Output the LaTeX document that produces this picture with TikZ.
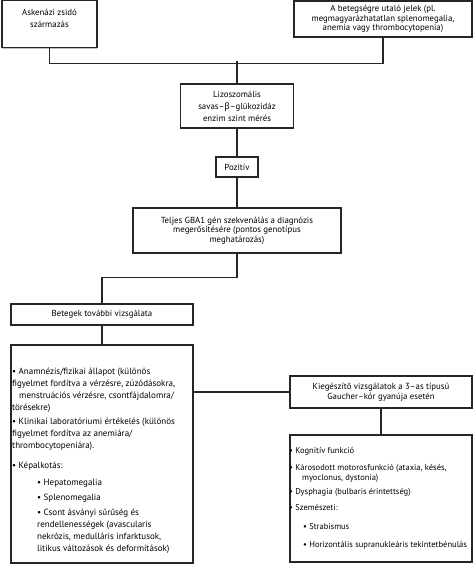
\documentclass[tikz,border=0pt]{standalone}
\usepackage{fontspec}
\setmainfont{PT Sans}
\newfontfamily\grfont{Noto Sans}
\usetikzlibrary{shadows}

\begin{document}
\begin{tikzpicture}[x=1pt, y=-1pt,
  box/.style={draw=black!85, line width=1.1pt, fill=white, inner sep=2pt,
              drop shadow={shadow xshift=0.4pt, shadow yshift=-1.2pt, opacity=0.5},
              align=center, font=\fontsize{8.8}{9.6}\selectfont},
  txt/.style={inner sep=0pt, align=left, anchor=north west},
  line/.style={draw=black!85, line width=1.1pt}]
\useasboundingbox (0,0) rectangle (474,573);

%% felső sor
\node[box, minimum width=95pt, minimum height=47pt,
      font=\fontsize{8.8}{12}\selectfont] (ask) at (49.5,24)
      {Askenázi zsidó\\származás\\\mbox{}};
\node[box, minimum width=178pt, minimum height=36pt] (jel) at (383,19)
      {A betegségre utaló jelek (pl.\\megmagyarázhatatlan splenomegalia,\\anemia vagy thrombocytopenia)};

%% középső oszlop
\node[box, minimum width=113pt, minimum height=44pt,
      font=\fontsize{8.8}{12}\selectfont] (lizo) at (237,106)
      {Lizoszomális\\savas–{\grfont β}–glükozidáz\\enzim szint mérés};
\node[box, minimum width=42pt, minimum height=20pt] (poz) at (237,167)
      {Pozitív};
\node[box, minimum width=208pt, minimum height=45pt] (gba) at (237,230.5)
      {Teljes GBA1 gén szekvenálás a diagnózis\\megerősítésére (pontos genotípus\\meghatározás)};

%% bal oldal
\node[box, minimum width=182pt, minimum height=21pt] (bet) at (102,314.5)
      {Betegek további vizsgálata};
\node[box, minimum width=182pt, minimum height=218pt] (vizsg) at (102,454) {};
\node[txt, font=\fontsize{9}{12}\selectfont] (anam) at (12,368) {%
• Anamnézis/fizikai állapot (különös\\
figyelmet fordítva a vérzésre, zúzódásokra,\\
\hspace*{7pt}menstruációs vérzésre, csontfájdalomra/\\
törésekre)\\[2pt]
• Klinikai laboratóriumi értékelés (különös\\
figyelmet fordítva az anemiára/\\
thrombocytopeniára).\\[8pt]
• Képalkotás:\\[5pt]
\hspace*{25pt}• Hepatomegalia\\[3pt]
\hspace*{25pt}• Splenomegalia\\[3pt]
\hspace*{25pt}• Csont ásványi sűrűség és\\
\hspace*{25pt}rendellenességek (avascularis\\
\hspace*{25pt}nekrózis, medulláris infarktusok,\\
\hspace*{25pt}litikus változások és deformitások)};

%% jobb oldal
\node[box, minimum width=182pt, minimum height=32pt] (kieg) at (381,392)
      {Kiegészítő vizsgálatok a 3–as típusú\\Gaucher–kór gyanúja esetén};
\node[box, minimum width=182pt, minimum height=127pt] (tov) at (381,498.5) {};
\node[txt, font=\fontsize{8.5}{10}\selectfont] (kogn) at (289,447) {%
• Kognitív funkció\\[7pt]
• Károsodott motorosfunkció (ataxia, késés,\\
\hspace*{13pt}myoclonus, dystonia)\\[4pt]
• Dysphagia (bulbaris érintettség)\\[6pt]
• Szemészeti:\\[9pt]
\hspace*{14pt}• Strabismus\\[8pt]
\hspace*{14pt}• Horizontális supranukleáris tekintetbénulás};

%% összekötők
\draw[line] (ask.south) -- ++(0,15) -| (jel.south);
\draw[line] (lizo.north) -- ++(0,-22);
\draw[line] (lizo.south) -- (poz.north);
\draw[line] (poz.south) -- (gba.north);
\draw[line] (gba.south) -- ++(0,24) -| (bet.north);
\draw[line] (bet.south) -- (vizsg.north);
\draw[line] (kieg.west) -- (kieg.west -| vizsg.east);
\draw[line] (kieg.south) -- (tov.north);
\end{tikzpicture}
\end{document}
